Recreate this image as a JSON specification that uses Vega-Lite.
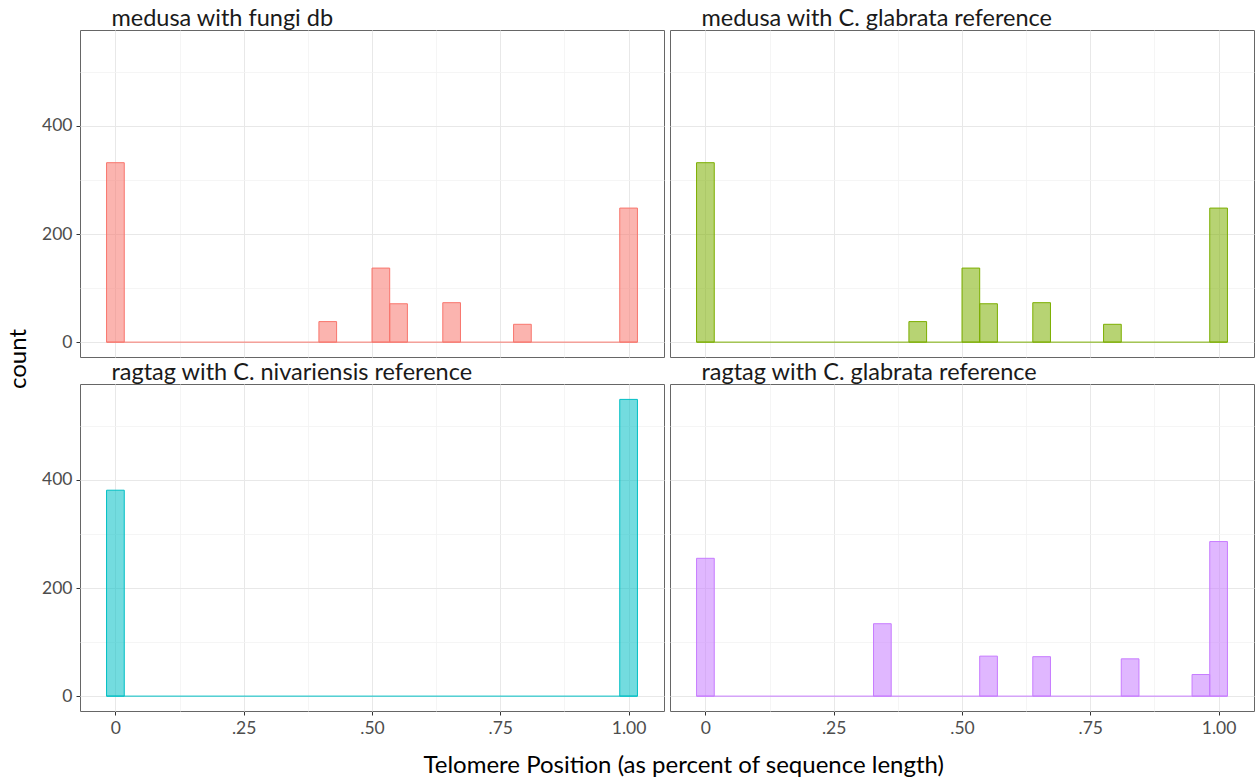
{
  "$schema": "https://vega.github.io/schema/vega-lite/v6.json",
  "background": "white",
  "padding": {"left": 6, "top": 6, "right": 1, "bottom": 0},
  "bounds": "flush",
  "spacing": {"row": 27, "column": 6},
  "title": {
    "text": "Telomere Position (as percent of sequence length)",
    "orient": "bottom",
    "anchor": "middle",
    "frame": "bounds",
    "font": "Lato",
    "fontSize": 24,
    "fontWeight": "normal",
    "color": "#000000",
    "offset": 17,
    "dx": 53
  },
  "config": {
    "font": "Lato",
    "view": {"stroke": "#666666", "strokeWidth": 1},
    "axis": {
      "domain": false,
      "labelFont": "Lato",
      "labelFontSize": 17.5,
      "labelColor": "#4D4D4D",
      "tickColor": "#333333",
      "tickSize": 4,
      "labelPadding": 4,
      "title": null
    }
  },
  "data": {
    "values": [
      {"panel": "medusa with fungi db", "asm": "medusa", "col": 1, "kind": "base", "x0": -0.01724, "x1": 1.01724, "n": 0},
      {"panel": "medusa with fungi db", "asm": "medusa", "col": 1, "kind": "bar", "x0": -0.01724, "x1": 0.01724, "n": 332},
      {"panel": "medusa with fungi db", "asm": "medusa", "col": 1, "kind": "bar", "x0": 0.39655, "x1": 0.43103, "n": 38},
      {"panel": "medusa with fungi db", "asm": "medusa", "col": 1, "kind": "bar", "x0": 0.5, "x1": 0.53448, "n": 137},
      {"panel": "medusa with fungi db", "asm": "medusa", "col": 1, "kind": "bar", "x0": 0.53448, "x1": 0.56897, "n": 71},
      {"panel": "medusa with fungi db", "asm": "medusa", "col": 1, "kind": "bar", "x0": 0.63793, "x1": 0.67241, "n": 73},
      {"panel": "medusa with fungi db", "asm": "medusa", "col": 1, "kind": "bar", "x0": 0.77586, "x1": 0.81034, "n": 33},
      {"panel": "medusa with fungi db", "asm": "medusa", "col": 1, "kind": "bar", "x0": 0.98276, "x1": 1.01724, "n": 248},

      {"panel": "medusa with C. glabrata reference", "asm": "medusa", "col": 2, "kind": "base", "x0": -0.01724, "x1": 1.01724, "n": 0},
      {"panel": "medusa with C. glabrata reference", "asm": "medusa", "col": 2, "kind": "bar", "x0": -0.01724, "x1": 0.01724, "n": 332},
      {"panel": "medusa with C. glabrata reference", "asm": "medusa", "col": 2, "kind": "bar", "x0": 0.39655, "x1": 0.43103, "n": 38},
      {"panel": "medusa with C. glabrata reference", "asm": "medusa", "col": 2, "kind": "bar", "x0": 0.5, "x1": 0.53448, "n": 137},
      {"panel": "medusa with C. glabrata reference", "asm": "medusa", "col": 2, "kind": "bar", "x0": 0.53448, "x1": 0.56897, "n": 71},
      {"panel": "medusa with C. glabrata reference", "asm": "medusa", "col": 2, "kind": "bar", "x0": 0.63793, "x1": 0.67241, "n": 73},
      {"panel": "medusa with C. glabrata reference", "asm": "medusa", "col": 2, "kind": "bar", "x0": 0.77586, "x1": 0.81034, "n": 33},
      {"panel": "medusa with C. glabrata reference", "asm": "medusa", "col": 2, "kind": "bar", "x0": 0.98276, "x1": 1.01724, "n": 248},

      {"panel": "ragtag with C. nivariensis reference", "asm": "ragtag", "col": 1, "kind": "base", "x0": -0.01724, "x1": 1.01724, "n": 0},
      {"panel": "ragtag with C. nivariensis reference", "asm": "ragtag", "col": 1, "kind": "bar", "x0": -0.01724, "x1": 0.01724, "n": 381},
      {"panel": "ragtag with C. nivariensis reference", "asm": "ragtag", "col": 1, "kind": "bar", "x0": 0.98276, "x1": 1.01724, "n": 549},

      {"panel": "ragtag with C. glabrata reference", "asm": "ragtag", "col": 2, "kind": "base", "x0": -0.01724, "x1": 1.01724, "n": 0},
      {"panel": "ragtag with C. glabrata reference", "asm": "ragtag", "col": 2, "kind": "bar", "x0": -0.01724, "x1": 0.01724, "n": 255},
      {"panel": "ragtag with C. glabrata reference", "asm": "ragtag", "col": 2, "kind": "bar", "x0": 0.32759, "x1": 0.36207, "n": 134},
      {"panel": "ragtag with C. glabrata reference", "asm": "ragtag", "col": 2, "kind": "bar", "x0": 0.53448, "x1": 0.56897, "n": 74},
      {"panel": "ragtag with C. glabrata reference", "asm": "ragtag", "col": 2, "kind": "bar", "x0": 0.63793, "x1": 0.67241, "n": 73},
      {"panel": "ragtag with C. glabrata reference", "asm": "ragtag", "col": 2, "kind": "bar", "x0": 0.81034, "x1": 0.84483, "n": 69},
      {"panel": "ragtag with C. glabrata reference", "asm": "ragtag", "col": 2, "kind": "bar", "x0": 0.94828, "x1": 0.98276, "n": 40},
      {"panel": "ragtag with C. glabrata reference", "asm": "ragtag", "col": 2, "kind": "bar", "x0": 0.98276, "x1": 1.01724, "n": 286}
    ]
  },
  "facet": {
    "row": {
      "field": "asm", "type": "nominal", "sort": ["medusa", "ragtag"],
      "header": {
        "labels": false,
        "title": "count",
        "titleOrient": "left",
        "titleFont": "Lato",
        "titleFontSize": 24,
        "titleFontWeight": "normal",
        "titleColor": "#000000",
        "titlePadding": 0
      }
    },
    "column": {
      "field": "col", "type": "ordinal", "sort": [1, 2],
      "header": {"labels": false, "title": null}
    }
  },
  "spec": {
    "width": 584,
    "height": 327,
    "encoding": {
      "x": {
        "field": "x0", "type": "quantitative",
        "scale": {"domain": [-0.069, 1.069], "nice": false, "zero": false},
        "axis": {
          "values": [0, 0.125, 0.25, 0.375, 0.5, 0.625, 0.75, 0.875, 1],
          "labelExpr": "datum.value == 0 ? '0' : datum.value == 1 ? '1.00' : (datum.value * 4) % 1 == 0 ? slice(format(datum.value, '.2f'), 1) : ''",
          "tickOpacity": {"condition": {"test": "(datum.value * 4) % 1 == 0", "value": 1}, "value": 0},
          "gridColor": {"condition": {"test": "(datum.value * 4) % 1 == 0", "value": "#E8E8E8"}, "value": "#F3F3F3"},
          "gridWidth": {"condition": {"test": "(datum.value * 4) % 1 == 0", "value": 1}, "value": 0.8}
        }
      },
      "y": {
        "field": "n", "type": "quantitative",
        "scale": {"domain": [-27.5, 577.5], "nice": false, "zero": false},
        "axis": {
          "values": [0, 100, 200, 300, 400, 500],
          "labelExpr": "datum.value % 200 == 0 ? datum.label : ''",
          "tickOpacity": {"condition": {"test": "datum.value % 200 == 0", "value": 1}, "value": 0},
          "gridColor": {"condition": {"test": "datum.value % 200 == 0", "value": "#E8E8E8"}, "value": "#F3F3F3"},
          "gridWidth": {"condition": {"test": "datum.value % 200 == 0", "value": 1}, "value": 0.8}
        }
      }
    },
    "layer": [
      {
        "transform": [{"filter": "datum.kind == 'base'"}],
        "mark": {"type": "rule", "strokeWidth": 1},
        "encoding": {
          "x2": {"field": "x1"},
          "color": {
            "field": "panel", "type": "nominal",
            "scale": {
              "domain": ["medusa with fungi db", "medusa with C. glabrata reference", "ragtag with C. nivariensis reference", "ragtag with C. glabrata reference"],
              "range": ["#F8766D", "#7CAE00", "#00BFC4", "#C77CFF"]
            },
            "legend": null
          }
        }
      },
      {
        "transform": [{"filter": "datum.kind == 'bar'"}],
        "mark": {"type": "rect", "fillOpacity": 0.55, "strokeWidth": 1},
        "encoding": {
          "x2": {"field": "x1"},
          "y2": {"datum": 0},
          "color": {"field": "panel", "type": "nominal", "legend": null},
          "stroke": {
            "field": "panel", "type": "nominal",
            "scale": {
              "domain": ["medusa with fungi db", "medusa with C. glabrata reference", "ragtag with C. nivariensis reference", "ragtag with C. glabrata reference"],
              "range": ["#F8766D", "#7CAE00", "#00BFC4", "#C77CFF"]
            },
            "legend": null
          }
        }
      },
      {
        "transform": [{"filter": "datum.kind == 'base'"}],
        "mark": {"type": "text", "align": "left", "baseline": "alphabetic", "font": "Lato", "fontSize": 23.5, "color": "#1A1A1A", "dx": -4, "dy": -4},
        "encoding": {
          "x": {"datum": 0},
          "y": {"datum": 577.5},
          "text": {"field": "panel"}
        }
      }
    ]
  }
}
